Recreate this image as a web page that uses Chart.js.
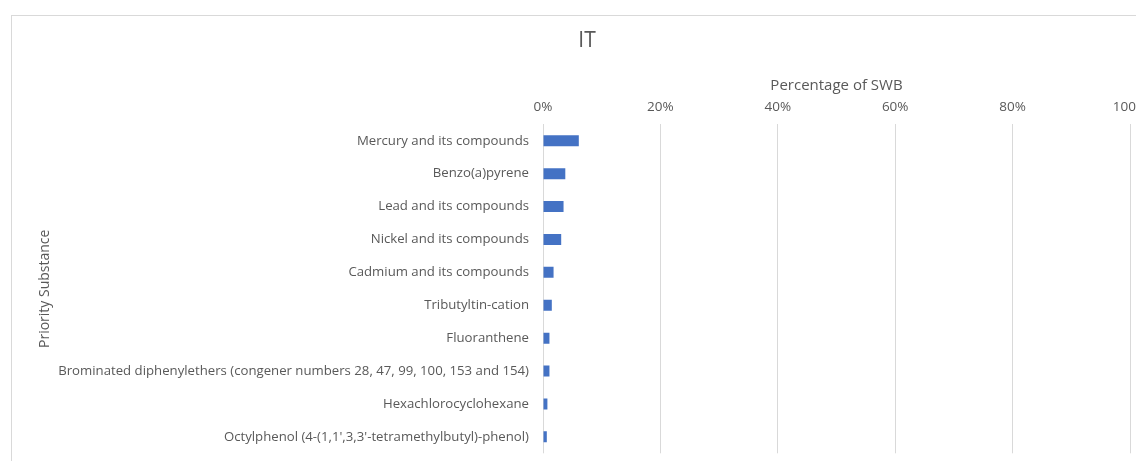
<!DOCTYPE html>
<html>
<head>
<meta charset="utf-8">
<script src="https://cdn.jsdelivr.net/npm/chart.js@4"></script>
<style>
  html, body { margin: 0; padding: 0; background: #fff; overflow: hidden; width: 1136px; height: 461px; }
  #box { position: absolute; left: 11px; top: 15px; width: 1152px; height: 470px; border: 1px solid #d9d9d9; background: #fff; }
  #box canvas { display: block; }
</style>
</head>
<body>
<div id="box"><canvas id="c"></canvas></div>
<script>
const chartTitle = "IT";
const xAxisTitle = "Percentage of SWB";
const yAxisTitle = "Priority Substance";
const categories = [
  "Mercury and its compounds",
  "Benzo(a)pyrene",
  "Lead and its compounds",
  "Nickel and its compounds",
  "Cadmium and its compounds",
  "Tributyltin-cation",
  "Fluoranthene",
  "Brominated diphenylethers (congener numbers 28, 47, 99, 100, 153 and 154)",
  "Hexachlorocyclohexane",
  "Octylphenol (4-(1,1',3,3'-tetramethylbutyl)-phenol)"
];
const percentValues = [6.1, 3.8, 3.5, 3.1, 1.8, 1.5, 1.1, 1.1, 0.75, 0.65];
const xTicks = [0, 20, 40, 60, 80, 100];

const textColor = "#595959";
const fontFamily = "'Open Sans', 'Noto Sans', sans-serif";

new Chart(document.getElementById("c"), {
  type: "bar",
  data: {
    labels: categories,
    datasets: [{
      label: xAxisTitle,
      data: percentValues,
      backgroundColor: "#4472C4",
      borderWidth: 0,
      barPercentage: 1,
      categoryPercentage: 0.335
    }]
  },
  options: {
    indexAxis: "y",
    responsive: true,
    maintainAspectRatio: false,
    animation: false,
    layout: { padding: { left: 32, right: 34, top: 0, bottom: 32.7 } },
    plugins: {
      legend: { display: false },
      tooltip: { enabled: false },
      title: {
        display: true,
        text: chartTitle,
        color: textColor,
        font: { family: fontFamily, size: 21, weight: "normal" },
        padding: { top: 12.9, bottom: 0 }
      }
    },
    scales: {
      x: {
        position: "top",
        min: 0,
        max: 100,
        afterBuildTicks: (s) => { s.ticks = xTicks.map(v => ({ value: v })); },
        afterFit: (s) => { s.height = 70.2; },
        ticks: {
          color: textColor,
          font: { family: fontFamily, size: 13.5 },
          padding: 9.5,
          callback: (v) => v + "%"
        },
        grid: { color: "#d9d9d9", lineWidth: 1, drawTicks: false },
        border: { display: false },
        title: {
          display: true,
          text: xAxisTitle,
          color: textColor,
          font: { family: fontFamily, size: 15 },
          padding: { top: 23, bottom: 0 }
        }
      },
      y: {
        afterFit: (s) => { s.width = 499; },
        ticks: {
          color: textColor,
          font: { family: fontFamily, size: 13.2 },
          padding: 6
        },
        grid: { display: false },
        border: { display: false },
        title: {
          display: true,
          text: yAxisTitle,
          color: textColor,
          font: { family: fontFamily, size: 14 },
          padding: { top: -7, bottom: 0 }
        }
      }
    }
  }
});
</script>
</body>
</html>
